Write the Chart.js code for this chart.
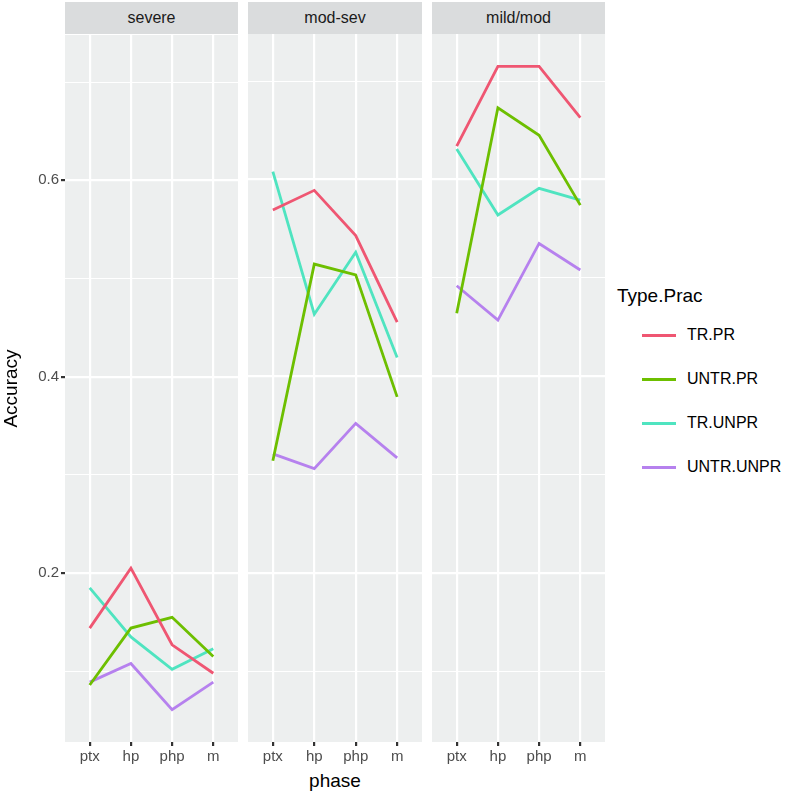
<!DOCTYPE html>
<html>
<head>
<meta charset="utf-8">
<script src="https://cdn.jsdelivr.net/npm/chart.js@4"></script>
<style>
  body { margin: 0; background: #fff; font-family: "Liberation Sans", Arial, sans-serif; }
  #wrap { position: relative; width: 787px; height: 795px; }
  canvas { position: absolute; }
  .strip { position: absolute; top: 2px; height: 32px; line-height: 32px; background: #dadcdd;
           text-align: center; font-size: 16px; color: #1a1a1a; }
  .xtitle { position: absolute; left: 235px; width: 200px; top: 770px; text-align: center; font-size: 19px; color: #000; }
  .lg { position: absolute; color: #000; white-space: nowrap; }
  .lgttl { font-size: 19px; }
  .lgtxt { font-size: 16px; }
  .lgkey { position: absolute; width: 34px; height: 3px; }
</style>
</head>
<body>
<div id="wrap">
  <div class="strip" style="left:65px;width:173px">severe</div>
  <div class="strip" style="left:248px;width:174px">mod-sev</div>
  <div class="strip" style="left:432px;width:173px">mild/mod</div>
  <canvas id="p1" width="238" height="746" style="left:0px;top:24px"></canvas>
  <canvas id="p2" width="174" height="736" style="left:248px;top:34px"></canvas>
  <canvas id="p3" width="173" height="736" style="left:432px;top:34px"></canvas>
  <div class="xtitle">phase</div>
  <div class="lg lgttl" style="left:617px;top:285px">Type.Prac</div>
  <div id="legend"></div>
</div>
<script>
const phases = ["ptx", "hp", "php", "m"];
const facets = ["severe", "mod-sev", "mild/mod"];
const seriesNames = ["TR.PR", "UNTR.PR", "TR.UNPR", "UNTR.UNPR"];
const seriesColors = ["#ef5672", "#6dbf00", "#4fe4c0", "#b681ee"];

// accuracy per series (rows follow seriesNames), columns follow phases
const severeValues = [
  [0.144, 0.205, 0.127, 0.098],
  [0.086, 0.144, 0.155, 0.115],
  [0.185, 0.135, 0.102, 0.123],
  [0.089, 0.108, 0.061, 0.089]
];
const modSevValues = [
  [0.569, 0.589, 0.543, 0.455],
  [0.314, 0.514, 0.503, 0.379],
  [0.608, 0.463, 0.526, 0.419],
  [0.321, 0.306, 0.352, 0.317]
];
const mildModValues = [
  [0.634, 0.715, 0.715, 0.663],
  [0.464, 0.673, 0.645, 0.574],
  [0.631, 0.564, 0.591, 0.579],
  [0.492, 0.457, 0.535, 0.508]
];

const gridValues = [0.1, 0.2, 0.3, 0.4, 0.5, 0.6, 0.7];
const yTickLabels = ["0.2", "0.4", "0.6"];

const panelBg = {
  id: "panelBg",
  beforeDraw(chart) {
    const a = chart.chartArea, c = chart.ctx;
    c.save();
    c.fillStyle = "#edefef";
    c.fillRect(a.left, a.top, a.right - a.left, a.bottom - a.top);
    c.restore();
  }
};

function isMajor(v) {
  return yTickLabels.includes(v.toFixed(1));
}

function makePanel(id, values, showY) {
  new Chart(document.getElementById(id), {
    type: "line",
    data: {
      datasets: seriesNames.map((name, i) => ({
        label: name,
        data: values[i].map((v, j) => ({ x: j + 1, y: v })),
        borderColor: seriesColors[i],
        borderWidth: 2.8,
        pointRadius: 0,
        fill: false,
        tension: 0
      }))
    },
    options: {
      responsive: false,
      animation: false,
      layout: { padding: 0 },
      plugins: { legend: { display: false }, tooltip: { enabled: false } },
      scales: {
        x: {
          type: "linear",
          min: 0.4,
          max: 4.6,
          afterBuildTicks: s => { s.ticks = phases.map((p, j) => ({ value: j + 1 })); },
          afterFit: s => { s.height = 28; },
          ticks: {
            callback: v => phases[v - 1],
            color: "#4d4d4d",
            font: { family: "Liberation Sans", size: 15 },
            padding: 2,
            maxRotation: 0,
            autoSkip: false
          },
          grid: { color: "#fff", lineWidth: 2.2, tickColor: "#333", tickLength: 4 },
          border: { display: false }
        },
        y: {
          type: "linear",
          min: 0.028,
          max: 0.748,
          afterBuildTicks: s => { s.ticks = gridValues.map(v => ({ value: v })); },
          afterFit: s => { s.width = showY ? 65 : 0; },
          ticks: {
            display: showY,
            callback: v => isMajor(v) ? v.toFixed(1) : "",
            color: "#4d4d4d",
            font: { family: "Liberation Sans", size: 15 },
            padding: 2
          },
          title: {
            display: showY,
            text: "Accuracy",
            color: "#000",
            font: { family: "Liberation Sans", size: 19 },
            padding: 0
          },
          grid: {
            color: "#fff",
            lineWidth: ctx => isMajor(ctx.tick.value) ? 2.2 : 1.1,
            drawTicks: showY,
            tickColor: ctx => isMajor(ctx.tick.value) ? "#333" : "rgba(0,0,0,0)",
            tickLength: 4
          },
          border: { display: false }
        }
      }
    },
    plugins: [panelBg]
  });
}

makePanel("p1", severeValues, true);
makePanel("p2", modSevValues, false);
makePanel("p3", mildModValues, false);

// legend
const legend = document.getElementById("legend");
seriesNames.forEach((name, i) => {
  const y = 335 + i * 44;
  const key = document.createElement("div");
  key.className = "lgkey";
  key.style.cssText = `left:642px;top:${y - 1}px;background:${seriesColors[i]}`;
  const txt = document.createElement("div");
  txt.className = "lg lgtxt";
  txt.style.cssText = `left:687px;top:${y - 9}px`;
  txt.textContent = name;
  legend.appendChild(key);
  legend.appendChild(txt);
});
</script>
</body>
</html>
